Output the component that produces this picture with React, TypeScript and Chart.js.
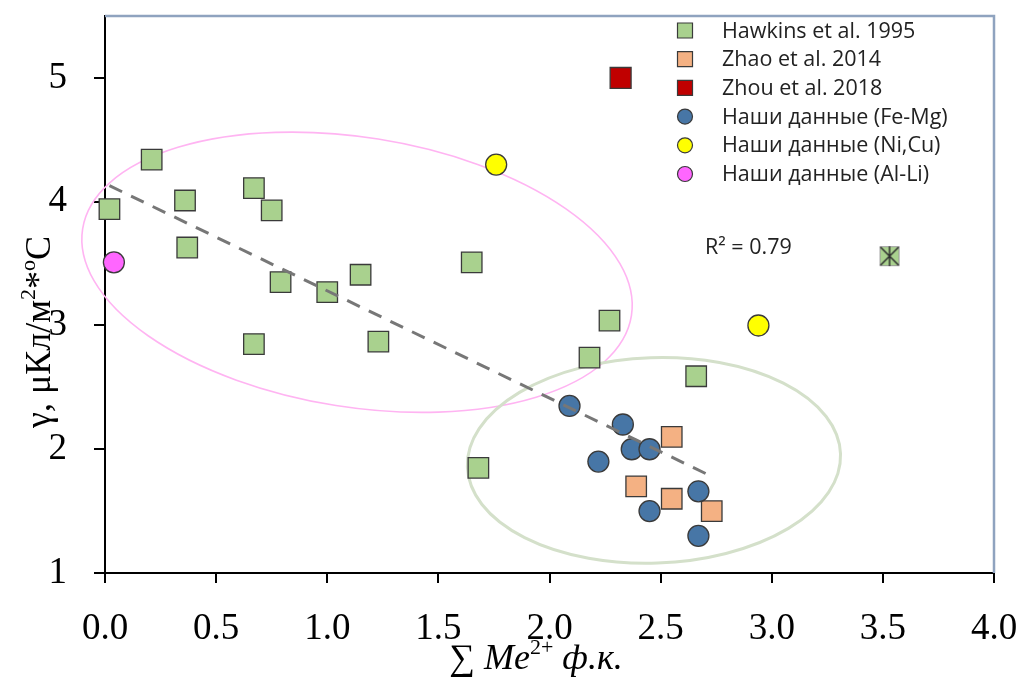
import React, { useEffect, useRef } from 'react';
import { Chart, registerables } from 'chart.js';

Chart.register(...registerables);

// ---------- data ----------
const hawkinsX = [0.02, 0.21, 0.36, 0.37, 0.67, 0.75, 0.79, 1.0, 1.15, 0.67, 1.23, 1.65, 2.18, 2.27, 2.66, 1.68];
const hawkinsY = [3.94, 4.34, 4.01, 3.63, 4.11, 3.93, 3.35, 3.27, 3.41, 2.85, 2.87, 3.51, 2.74, 3.04, 2.59, 1.85];
const zhaoX = [2.55, 2.39, 2.55, 2.73];
const zhaoY = [2.1, 1.7, 1.6, 1.5];
const zhouX = [2.32];
const zhouY = [5.0];
const feMgX = [2.09, 2.33, 2.37, 2.45, 2.22, 2.67, 2.45, 2.67];
const feMgY = [2.35, 2.2, 2.0, 2.0, 1.9, 1.66, 1.5, 1.3];
const niCuX = [1.76, 2.94];
const niCuY = [4.3, 3.0];
const alLiX = [0.04];
const alLiY = [3.51];
const extraX = [3.53];
const extraY = [3.56];
const trendX = [0.02, 2.73];
const trendY = [4.13, 1.78];

const xTicks = [0, 0.5, 1, 1.5, 2, 2.5, 3, 3.5, 4];
const yTicks = [1, 2, 3, 4, 5];

// ellipses (centre and radii in data units, rotation in degrees)
const ellipseCX = [1.134, 2.47];
const ellipseCY = [3.43, 1.91];
const ellipseRX = [1.25, 0.84];
const ellipseRY = [1.09, 0.83];
const ellipseRot = [9, -2];
const ellipseColor = ['#FFB4F2', '#D4E0CA'];
const ellipseWidth = [1.6, 3];

const seriesLabels = [
  'Hawkins et al. 1995',
  'Zhao et al. 2014',
  'Zhou et al. 2018',
  'Наши данные (Fe-Mg)',
  'Наши данные (Ni,Cu)',
  'Наши данные (Al-Li)',
];
const r2Text = 'R² = 0.79';

const pts = (xs: number[], ys: number[]) => xs.map((x, i) => ({ x, y: ys[i] }));

function makeStarImage(): HTMLCanvasElement {
  const c = document.createElement('canvas');
  c.width = 22;
  c.height = 22;
  const g = c.getContext('2d')!;
  g.fillStyle = '#A9D18E';
  g.fillRect(1, 1, 20, 20);
  g.strokeStyle = '#9A9A9A';
  g.lineWidth = 1;
  g.strokeRect(1.5, 1.5, 19, 19);
  g.strokeStyle = '#2E2E2E';
  g.lineWidth = 1.5;
  g.beginPath();
  g.moveTo(2, 2);
  g.lineTo(20, 20);
  g.moveTo(20, 2);
  g.lineTo(2, 20);
  g.moveTo(11, 1);
  g.lineTo(11, 21);
  g.stroke();
  return c;
}

type Seg = { t: string; size: number; dy: number; italic?: boolean };
function drawSegs(ctx: CanvasRenderingContext2D, segs: Seg[], cx: number, baseY: number) {
  const font = (s: Seg) => `${s.italic ? 'italic ' : ''}${s.size}px "Liberation Serif", "Times New Roman", serif`;
  let total = 0;
  segs.forEach((s) => {
    ctx.font = font(s);
    total += ctx.measureText(s.t).width;
  });
  let x = cx - total / 2;
  ctx.textAlign = 'left';
  ctx.textBaseline = 'alphabetic';
  segs.forEach((s) => {
    ctx.font = font(s);
    ctx.fillText(s.t, x, baseY + s.dy);
    x += ctx.measureText(s.t).width;
  });
}

const decorPlugin = {
  id: 'decor',
  beforeDatasetsDraw(chart: any) {
    const { ctx, chartArea, scales } = chart;
    const xs = scales.x;
    const ys = scales.y;
    const pxX = xs.getPixelForValue(1) - xs.getPixelForValue(0);
    const pxY = ys.getPixelForValue(0) - ys.getPixelForValue(1);
    ctx.save();
    // frame (top and right)
    ctx.strokeStyle = '#8FA3BF';
    ctx.lineWidth = 2.5;
    ctx.beginPath();
    ctx.moveTo(chartArea.left, chartArea.top);
    ctx.lineTo(chartArea.right, chartArea.top);
    ctx.lineTo(chartArea.right, chartArea.bottom);
    ctx.stroke();
    // ellipses
    ellipseCX.forEach((cxv, i) => {
      ctx.beginPath();
      ctx.strokeStyle = ellipseColor[i];
      ctx.lineWidth = ellipseWidth[i];
      ctx.ellipse(
        xs.getPixelForValue(cxv),
        ys.getPixelForValue(ellipseCY[i]),
        ellipseRX[i] * pxX,
        ellipseRY[i] * pxY,
        (ellipseRot[i] * Math.PI) / 180,
        0,
        Math.PI * 2
      );
      ctx.stroke();
    });
    ctx.restore();
  },
  afterDraw(chart: any) {
    const { ctx } = chart;
    ctx.save();
    ctx.fillStyle = '#000';
    // x title
    drawSegs(
      ctx,
      [
        { t: '∑ ', size: 36, dy: 0 },
        { t: 'Me', size: 36, dy: 0, italic: true },
        { t: '2+', size: 22, dy: -15 },
        { t: ' ф.к.', size: 36, dy: 0, italic: true },
      ],
      536,
      669
    );
    // y title
    ctx.translate(50, 332);
    ctx.rotate(-Math.PI / 2);
    drawSegs(
      ctx,
      [
        { t: 'γ, μКл/м', size: 36, dy: 0 },
        { t: '2', size: 22, dy: -15 },
        { t: '*', size: 36, dy: 0 },
        { t: 'o', size: 22, dy: -15 },
        { t: 'C', size: 36, dy: 0 },
      ],
      0,
      0
    );
    ctx.restore();

    // legend
    ctx.save();
    const legendDs = chart.data.datasets.filter((d: any) => d.inLegend);
    const mx = 685;
    const tx = 722;
    const y0 = 30.5;
    const dy = 28.7;
    ctx.font = '21.5px "Open Sans", sans-serif';
    ctx.textBaseline = 'middle';
    ctx.textAlign = 'left';
    legendDs.forEach((d: any, i: number) => {
      const y = y0 + i * dy;
      ctx.fillStyle = d.backgroundColor;
      ctx.strokeStyle = d.borderColor;
      ctx.lineWidth = 1.2;
      ctx.beginPath();
      if (d.pointStyle === 'circle') {
        ctx.arc(mx, y, 7.5, 0, Math.PI * 2);
      } else {
        ctx.rect(mx - 7.5, y - 7.5, 15, 15);
      }
      ctx.fill();
      ctx.stroke();
      ctx.fillStyle = '#222';
      ctx.fillText(d.label, tx, y + 1);
    });
    // R² label
    ctx.fillStyle = '#222';
    ctx.fillText(r2Text, 705, 248);
    ctx.restore();
  },
};

const pointDs = (label: string, data: any[], bg: string, style: string, radius: number, order: number) => ({
  type: 'scatter' as const,
  label,
  data,
  backgroundColor: bg,
  borderColor: '#3A3A3A',
  borderWidth: 1.3,
  pointStyle: style,
  pointRadius: radius,
  pointHoverRadius: radius,
  clip: false,
  order,
  inLegend: true,
});

export default function App() {
  const ref = useRef<HTMLCanvasElement>(null);
  useEffect(() => {
    const star = makeStarImage();
    const datasets: any[] = [
      {
        type: 'line',
        label: 'trend',
        data: pts(trendX, trendY),
        borderColor: '#777777',
        borderWidth: 3,
        borderDash: [14, 10],
        pointRadius: 0,
        fill: false,
        clip: false,
        order: 0,
        inLegend: false,
      },
      pointDs(seriesLabels[0], pts(hawkinsX, hawkinsY), '#A9D18E', 'rect', 14.5, 7),
      pointDs(seriesLabels[1], pts(zhaoX, zhaoY), '#F4B183', 'rect', 14.5, 6),
      pointDs(seriesLabels[2], pts(zhouX, zhouY), '#C00000', 'rect', 14.8, 5),
      pointDs(seriesLabels[3], pts(feMgX, feMgY), '#4776A6', 'circle', 10.5, 4),
      pointDs(seriesLabels[4], pts(niCuX, niCuY), '#FFFF00', 'circle', 10.5, 3),
      pointDs(seriesLabels[5], pts(alLiX, alLiY), '#FF66FF', 'circle', 10.5, 2),
      {
        type: 'scatter',
        label: 'extra',
        data: pts(extraX, extraY),
        pointStyle: star,
        pointRadius: 11,
        clip: false,
        order: 1,
        inLegend: false,
      },
    ];
    const chart = new Chart(ref.current!, {
      type: 'scatter',
      data: { datasets },
      options: {
        animation: false,
        responsive: false,
        devicePixelRatio: 1,
        events: [],
        layout: { padding: { left: 0, top: 15, right: 26, bottom: 0 } },
        plugins: { legend: { display: false }, tooltip: { enabled: false } },
        scales: {
          x: {
            type: 'linear',
            min: 0,
            max: 4,
            afterBuildTicks: (s: any) => {
              s.ticks = xTicks.map((v) => ({ value: v }));
            },
            afterFit: (s: any) => {
              s.height = 106;
              s.paddingLeft = 0;
              s.paddingRight = 0;
            },
            border: { display: true, color: '#000', width: 2 },
            grid: { drawOnChartArea: false, drawTicks: true, tickLength: 10, color: '#000', lineWidth: 2 },
            ticks: {
              padding: 24,
              color: '#000',
              font: { family: '"Liberation Serif", "Times New Roman", serif', size: 37 },
              maxRotation: 0,
              callback: (v: any) => Number(v).toFixed(1),
            },
          },
          y: {
            type: 'linear',
            min: 1,
            max: 5.5,
            afterBuildTicks: (s: any) => {
              s.ticks = yTicks.map((v) => ({ value: v }));
            },
            afterFit: (s: any) => {
              s.width = 105;
              s.paddingTop = 0;
              s.paddingBottom = 0;
            },
            border: { display: true, color: '#000', width: 2 },
            grid: { drawOnChartArea: false, drawTicks: true, tickLength: 11, color: '#000', lineWidth: 2 },
            ticks: {
              padding: 27,
              color: '#000',
              font: { family: '"Liberation Serif", "Times New Roman", serif', size: 37 },
              callback: (v: any) => String(v),
            },
          },
        },
      },
      plugins: [decorPlugin],
    } as any);
    return () => chart.destroy();
  }, []);
  return (
    <div style={{ position: 'fixed', left: 0, top: 0, width: 1020, height: 679, background: '#fff' }}>
      <canvas ref={ref} width={1020} height={679} style={{ display: 'block' }} />
    </div>
  );
}
